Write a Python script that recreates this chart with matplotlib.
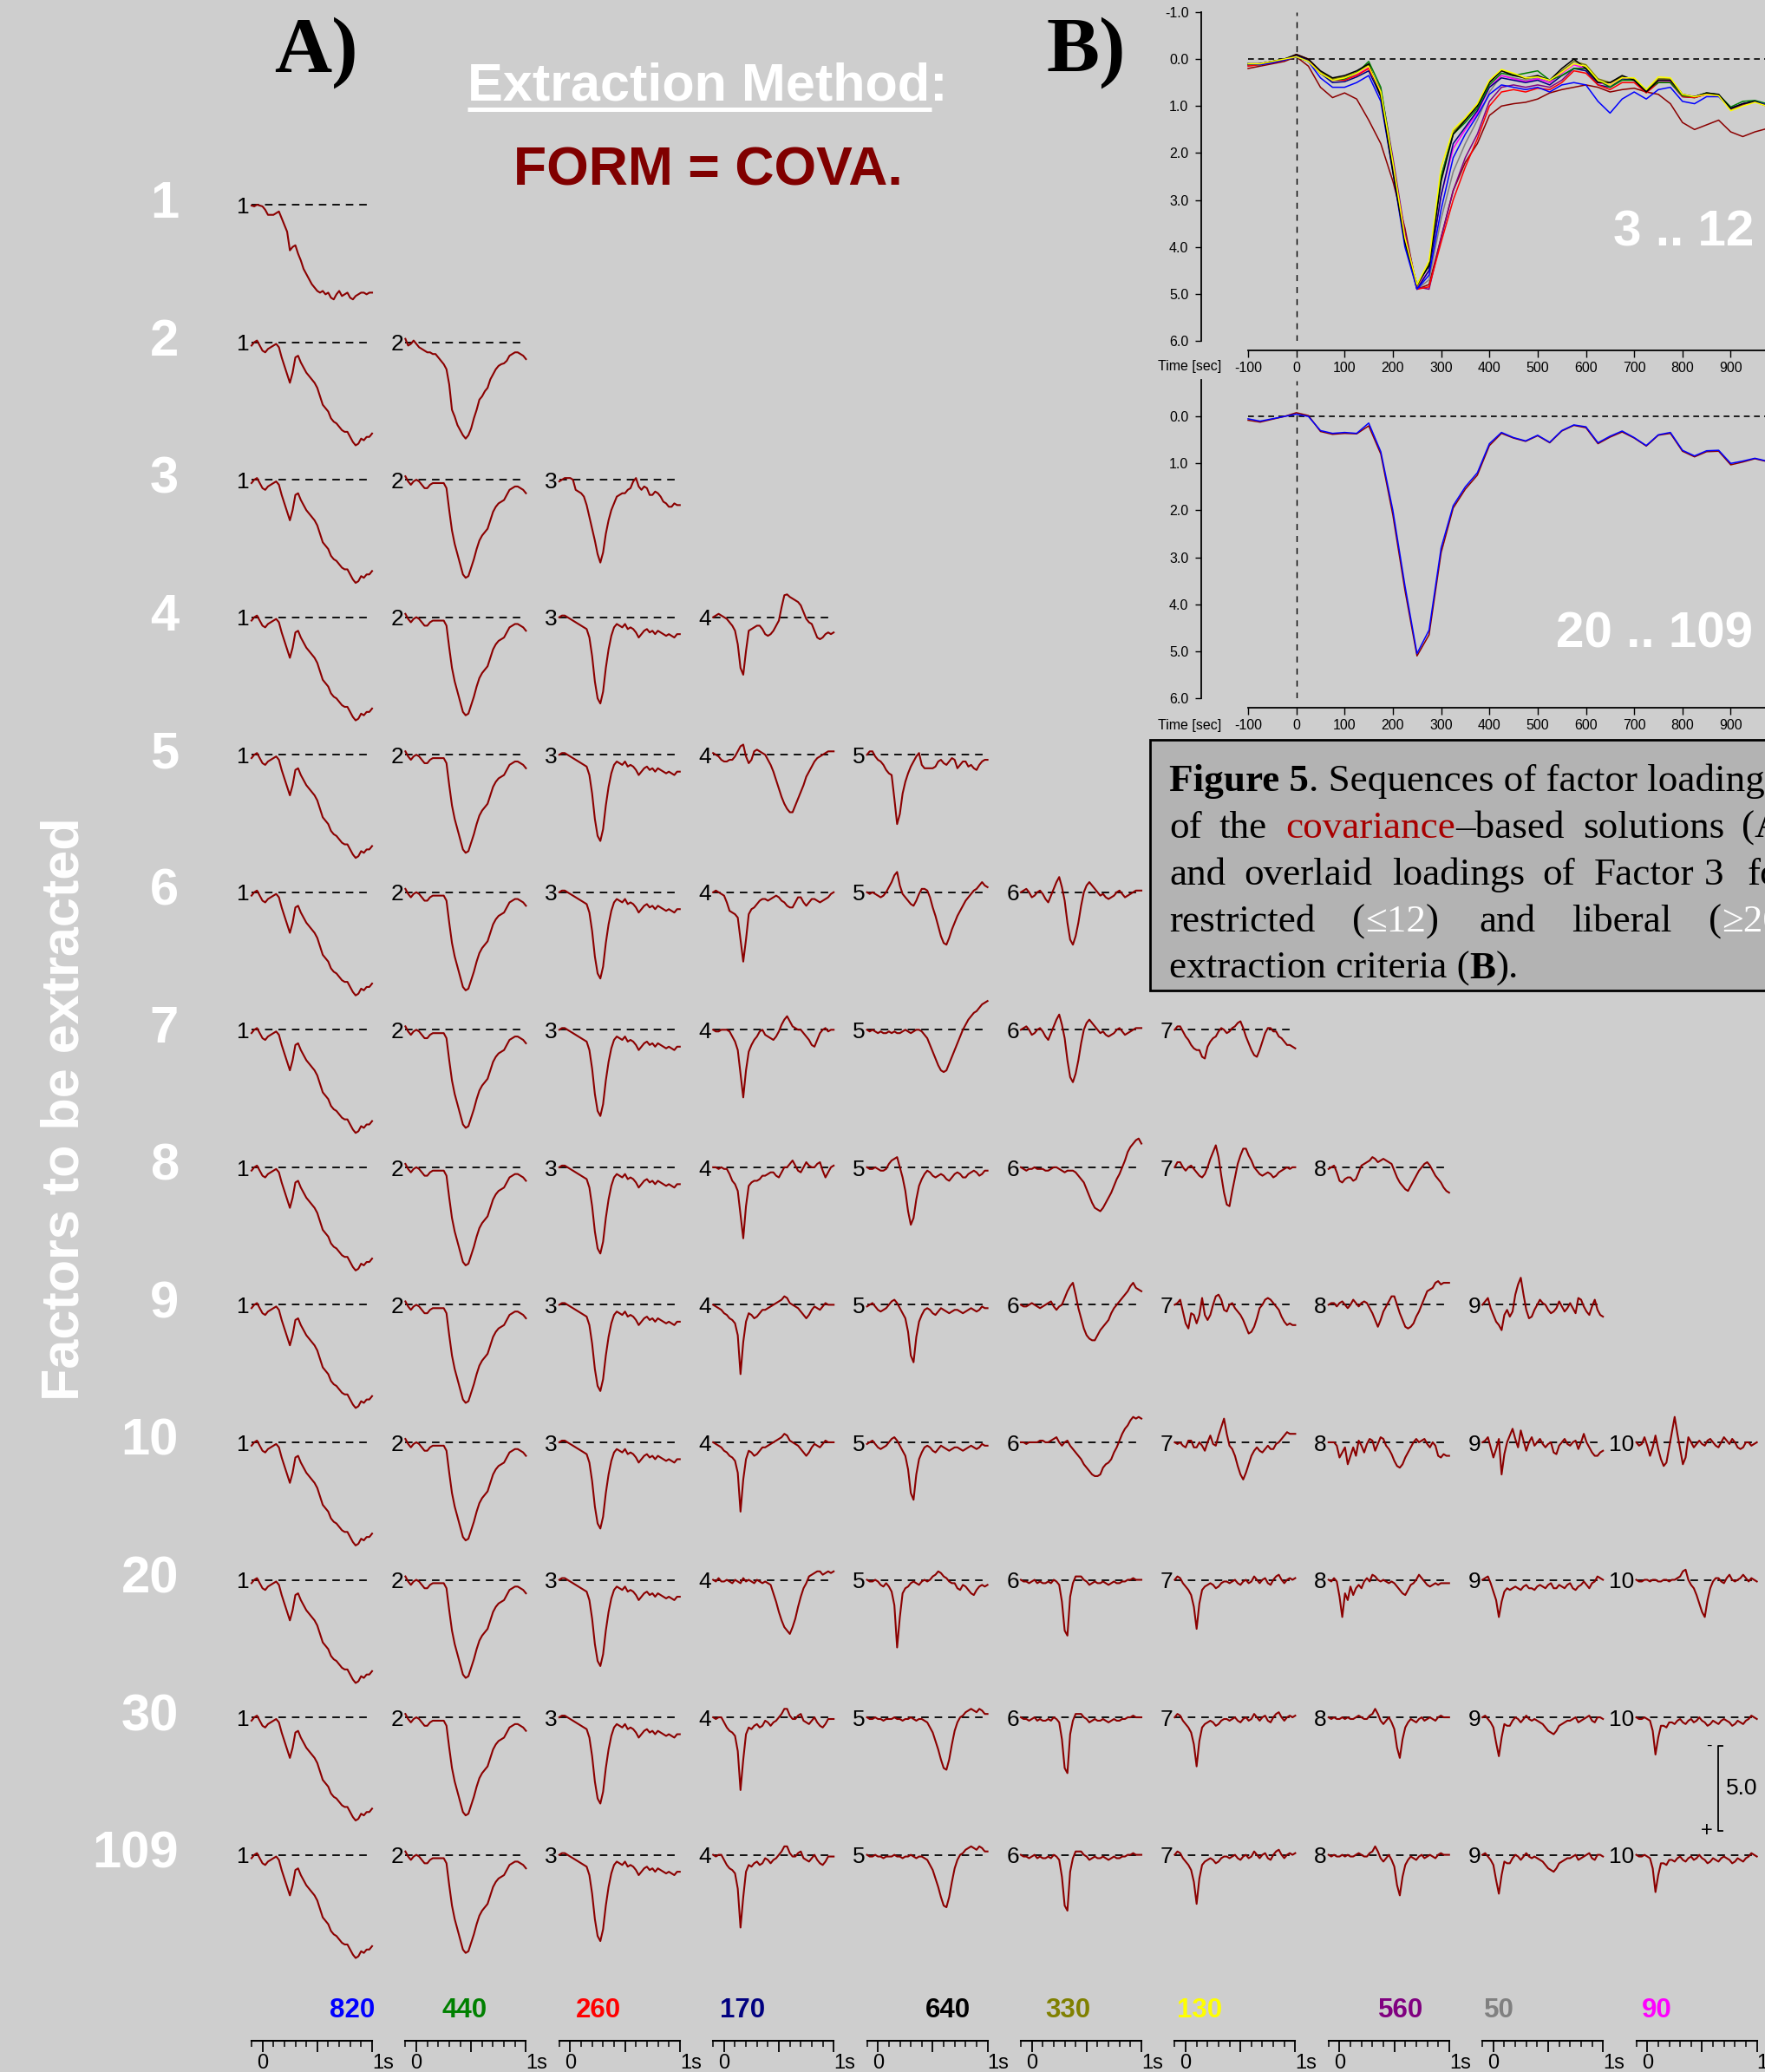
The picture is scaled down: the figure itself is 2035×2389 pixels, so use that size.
import numpy as np
import matplotlib
matplotlib.use("Agg")
import matplotlib.pyplot as plt
from matplotlib.patches import Rectangle

plt.rcParams["font.family"] = ["Liberation Sans", "DejaVu Sans"]
SERIF = ["Liberation Serif", "DejaVu Serif"]

W, H = 2035, 2389
BG = "#cecece"
WAVE = "#8b0000"

# sample times (ms) of every loading curve
times = np.arange(-100, 1001, 25)

# ---- panel A: factor loadings, one list per curve (positive = drawn downwards)
f1_row1 = [0.05, 0.1, 0.0, 0.05, 0.1, 0.3, 0.6, 0.6, 0.6,
           0.5, 0.4, 0.8, 1.2, 1.6, 2.7, 2.5, 2.4, 2.9,
           3.3, 3.8, 4.1, 4.4, 4.7, 4.9, 5.1, 5.2, 5.1,
           5.3, 5.2, 5.5, 5.6, 5.3, 5.1, 5.4, 5.3, 5.2,
           5.5, 5.6, 5.4, 5.3, 5.2, 5.2, 5.3, 5.2, 5.2]
f1 = [0.2, 0.0, -0.1, 0.2, 0.5, 0.6, 0.4, 0.3, 0.2,
      0.1, 0.3, 0.9, 1.4, 1.9, 2.4, 1.8, 0.9, 0.8,
      1.2, 1.5, 1.8, 2.0, 2.2, 2.4, 2.7, 3.2, 3.7,
      3.9, 4.1, 4.5, 4.7, 4.8, 5.0, 5.2, 5.3, 5.3,
      5.6, 5.9, 6.1, 6.0, 5.7, 5.8, 5.6, 5.6, 5.4]
f2_row2 = [-0.2, 0.2, 0.1, -0.1, 0.1, 0.3, 0.4, 0.5, 0.6,
           0.6, 0.7, 0.7, 0.9, 1.1, 1.3, 1.6, 2.5, 4.0,
           4.4, 4.9, 5.2, 5.5, 5.7, 5.5, 5.1, 4.5, 4.0,
           3.4, 3.2, 2.9, 2.7, 2.2, 1.9, 1.6, 1.4, 1.3,
           1.25, 1.1, 0.8, 0.7, 0.6, 0.6, 0.7, 0.8, 1.0]
f2 = [-0.2, 0.1, 0.3, 0.1, 0.0, 0.1, 0.3, 0.5, 0.5,
      0.3, 0.2, 0.2, 0.2, 0.2, 0.2, 0.5, 1.8, 3.0,
      3.8, 4.4, 5.0, 5.6, 5.8, 5.7, 5.2, 4.7, 4.1,
      3.6, 3.3, 3.1, 2.9, 2.4, 1.9, 1.6, 1.4, 1.3,
      1.2, 0.9, 0.6, 0.5, 0.4, 0.4, 0.5, 0.6, 0.8]
f3_row3 = [0.1, 0.0, -0.1, -0.1, -0.1, 0.0, 0.6, 0.7, 0.8,
           1.0, 1.5, 2.2, 2.9, 3.6, 4.4, 4.9, 4.3, 3.2,
           2.4, 1.8, 1.4, 1.0, 0.9, 0.8, 0.8, 0.6, 0.5,
           0.1, -0.1, 0.4, 0.6, 0.4, 0.5, 0.9, 0.9, 0.7,
           0.8, 1.0, 1.3, 1.4, 1.6, 1.6, 1.4, 1.5, 1.5]
f3 = [0.0, -0.1, -0.1, 0.0, 0.1, 0.2, 0.3, 0.4, 0.5,
      0.6, 0.7, 1.2, 2.3, 3.8, 4.8, 5.1, 4.4, 3.0,
      1.9, 1.1, 0.6, 0.4, 0.5, 0.6, 0.4, 0.7, 0.6,
      0.7, 0.9, 1.2, 1.0, 0.8, 0.7, 0.9, 0.8, 1.0,
      0.8, 0.9, 1.0, 1.1, 1.0, 1.1, 1.2, 1.0, 1.0]
r4_f4 = [0.0, -0.1, -0.2, -0.1, 0.0, 0.1, 0.3, 0.5, 0.8,
         1.6, 3.0, 3.4, 2.0, 0.8, 0.7, 0.6, 0.5, 0.5,
         0.7, 1.0, 1.1, 1.0, 0.8, 0.5, 0.2, -0.6, -1.3,
         -1.35, -1.2, -1.1, -1.0, -0.9, -0.7, -0.3, 0.1, 0.3,
         0.4, 0.8, 1.2, 1.3, 1.2, 1.0, 0.9, 1.0, 0.9]
r5_f4 = [-0.1, 0.0, 0.1, 0.3, 0.4, 0.4, 0.3, 0.3, 0.1,
         -0.2, -0.5, -0.6, 0.1, 0.5, 0.3, -0.2, -0.3, -0.2,
         -0.1, 0.0, 0.3, 0.6, 1.0, 1.5, 2.0, 2.5, 2.9,
         3.2, 3.4, 3.4, 3.0, 2.6, 2.2, 1.8, 1.3, 1.0,
         0.7, 0.4, 0.2, 0.1, 0.0, -0.1, -0.2, -0.2, -0.2]
r5_f5 = [0.0, -0.2, -0.2, 0.1, 0.3, 0.4, 0.6, 0.9, 1.1,
         1.2, 2.6, 4.1, 3.5, 2.3, 1.6, 1.1, 0.7, 0.4,
         0.1, -0.1, 0.6, 0.8, 0.8, 0.8, 0.8, 0.7, 0.4,
         0.3, 0.5, 0.6, 0.4, 0.2, 0.3, 0.8, 0.6, 0.4,
         0.4, 0.7, 0.6, 0.8, 0.9, 0.6, 0.4, 0.3, 0.3]
r6_f4 = [0.0, -0.1, 0.0, 0.1, 0.2, 0.6, 1.1, 1.2, 1.3,
         1.5, 2.8, 4.1, 2.8, 1.3, 1.0, 0.9, 0.7, 0.5,
         0.4, 0.4, 0.5, 0.4, 0.3, 0.2, 0.3, 0.5, 0.6,
         0.8, 0.9, 0.9, 0.6, 0.3, 0.3, 0.6, 0.8, 0.6,
         0.4, 0.4, 0.5, 0.6, 0.5, 0.4, 0.3, 0.1, 0.0]
r6_f5 = [0.0, 0.1, 0.0, 0.1, 0.2, 0.3, 0.2, 0.0, -0.3,
         -0.6, -1.0, -1.2, -0.4, 0.1, 0.3, 0.5, 0.7, 0.8,
         0.5, 0.1, -0.2, -0.2, -0.1, 0.3, 0.9, 1.4, 2.0,
         2.6, 3.0, 3.1, 2.7, 2.2, 1.8, 1.4, 1.1, 0.8,
         0.5, 0.3, 0.1, -0.1, -0.2, -0.4, -0.6, -0.4, -0.3]
r6_f6 = [0.0, -0.1, -0.2, 0.0, 0.3, 0.2, 0.0, -0.1, 0.1,
         0.4, 0.6, 0.2, -0.2, -0.6, -0.9, -0.3, 0.5, 1.8,
         2.8, 3.1, 2.6, 1.8, 0.8, 0.0, -0.4, -0.6, -0.4,
         -0.2, 0.0, 0.2, 0.1, 0.3, 0.4, 0.3, 0.2, 0.0,
         -0.1, 0.1, 0.3, 0.2, 0.1, 0.0, -0.1, -0.1, -0.1]
r7_f4 = [0.0, 0.1, 0.1, 0.0, 0.0, 0.0, 0.1, 0.4, 0.7,
         1.2, 2.6, 4.0, 2.4, 1.3, 0.9, 0.6, 0.4, 0.1,
         0.0, 0.3, 0.4, 0.5, 0.6, 0.4, 0.1, -0.3, -0.6,
         -0.8, -0.5, -0.2, -0.1, 0.0, 0.0, 0.2, 0.4, 0.6,
         0.9, 1.0, 0.6, 0.2, 0.0, -0.1, 0.1, 0.0, 0.0]
r7_f5 = [0.0, 0.1, 0.0, 0.1, 0.2, 0.1, 0.2, 0.2, 0.1,
         0.2, 0.1, 0.2, 0.2, 0.1, 0.0, 0.1, 0.2, 0.1,
         0.0, 0.0, 0.1, 0.3, 0.5, 0.9, 1.3, 1.7, 2.1,
         2.4, 2.5, 2.4, 2.0, 1.6, 1.2, 0.8, 0.4, 0.0,
         -0.3, -0.6, -0.8, -1.0, -1.1, -1.3, -1.5, -1.6, -1.7]
r7_f7 = [0.0, -0.2, -0.2, 0.1, 0.4, 0.6, 0.9, 1.1, 1.2,
         1.2, 1.6, 1.7, 1.0, 0.7, 0.5, 0.4, 0.1, -0.1,
         0.0, 0.2, 0.1, -0.1, -0.2, -0.4, -0.5, -0.1, 0.4,
         0.8, 1.2, 1.5, 1.6, 1.2, 0.7, 0.2, -0.1, -0.1,
         0.1, 0.1, 0.4, 0.5, 0.7, 0.9, 0.9, 1.0, 1.1]
r8_f4 = [0.0, 0.0, 0.1, 0.0, 0.1, 0.1, 0.4, 0.8, 1.0,
         1.4, 2.8, 4.2, 2.3, 1.1, 0.9, 0.8, 0.8, 0.7,
         0.5, 0.5, 0.4, 0.3, 0.3, 0.5, 0.6, 0.3, 0.0,
         0.0, -0.2, -0.4, -0.1, 0.2, 0.3, 0.0, -0.3, -0.1,
         0.0, 0.0, -0.2, -0.3, 0.2, 0.6, 0.3, 0.0, -0.1]
r8_f5 = [0.0, 0.1, 0.1, 0.0, 0.1, 0.2, 0.2, 0.1, -0.2,
         -0.4, -0.5, -0.6, 0.0, 0.6, 1.4, 2.6, 3.4, 3.0,
         1.9, 1.1, 0.7, 0.4, 0.2, 0.3, 0.5, 0.6, 0.5,
         0.4, 0.5, 0.7, 0.8, 0.6, 0.4, 0.3, 0.4, 0.6,
         0.6, 0.4, 0.3, 0.2, 0.3, 0.5, 0.4, 0.2, 0.2]
r8_f6 = [0.0, 0.1, 0.2, 0.1, 0.1, 0.0, 0.1, 0.1, 0.1,
         0.2, 0.2, 0.1, 0.0, 0.0, 0.1, 0.2, 0.3, 0.2,
         0.2, 0.2, 0.3, 0.5, 0.7, 0.9, 1.3, 1.7, 2.1,
         2.4, 2.5, 2.6, 2.4, 2.1, 1.8, 1.5, 1.1, 0.7,
         0.4, 0.0, -0.4, -0.9, -1.2, -1.4, -1.6, -1.7, -1.4]
r8_f7 = [0.0, -0.3, -0.3, 0.0, 0.2, 0.0, -0.1, 0.1, 0.3,
         0.5, 0.6, 0.4, 0.0, -0.5, -0.9, -1.3, -0.6, 0.5,
         1.5, 2.2, 2.3, 1.4, 0.6, -0.2, -0.7, -1.1, -1.1,
         -0.7, -0.4, 0.0, 0.2, 0.4, 0.5, 0.4, 0.3, 0.4,
         0.6, 0.5, 0.3, 0.2, 0.1, 0.0, 0.1, 0.0, 0.0]
r8_f8 = [0.1, 0.0, -0.1, 0.3, 0.8, 0.9, 0.7, 0.6, 0.6,
         0.8, 0.7, 0.3, -0.1, -0.2, -0.3, -0.4, -0.6, -0.5,
         -0.3, -0.4, -0.5, -0.4, -0.3, -0.2, 0.2, 0.6, 0.9,
         1.1, 1.3, 1.4, 1.1, 0.8, 0.5, 0.2, 0.0, -0.2,
         -0.3, -0.1, 0.2, 0.5, 0.7, 0.9, 1.2, 1.4, 1.5]
r9_f4 = [0.0, 0.1, 0.2, 0.3, 0.5, 0.6, 0.8, 0.9, 1.1,
         1.8, 4.1, 2.2, 1.0, 0.5, 0.6, 0.8, 0.7, 0.5,
         0.3, 0.3, 0.2, 0.1, 0.0, -0.1, -0.2, -0.3, -0.5,
         -0.4, -0.1, 0.0, 0.1, 0.2, 0.4, 0.6, 0.8, 0.6,
         0.3, 0.1, 0.2, 0.3, 0.1, -0.1, 0.0, 0.0, 0.0]
r9_f5 = [0.1, 0.0, -0.1, 0.1, 0.3, 0.4, 0.3, 0.2, 0.0,
         -0.2, -0.3, -0.1, 0.2, 0.5, 0.8, 1.6, 3.0, 3.4,
         1.9, 1.0, 0.6, 0.3, 0.2, 0.3, 0.5, 0.6, 0.4,
         0.2, 0.3, 0.4, 0.5, 0.4, 0.3, 0.3, 0.4, 0.5,
         0.4, 0.3, 0.2, 0.3, 0.4, 0.3, 0.1, 0.2, 0.2]
r9_f6 = [0.0, 0.1, 0.1, 0.0, -0.1, 0.0, 0.1, 0.2, 0.1,
         0.0, -0.1, -0.2, 0.1, 0.3, 0.1, 0.0, -0.4, -0.8,
         -1.1, -1.3, -0.6, 0.2, 0.8, 1.4, 1.8, 2.0, 2.1,
         2.1, 1.8, 1.5, 1.3, 1.1, 0.9, 0.5, 0.2, 0.0,
         -0.2, -0.4, -0.6, -0.8, -1.1, -1.3, -1.0, -0.9, -0.8]
r9_f7 = [0.0, -0.1, -0.3, 0.4, 1.1, 1.4, 0.5, 0.6, 1.1,
         0.6, -0.4, 0.6, 0.9, 0.6, 0.0, -0.5, -0.6, -0.3,
         0.3, 0.4, 0.0, -0.1, 0.2, 0.4, 0.6, 0.9, 1.3,
         1.7, 1.6, 1.3, 0.8, 0.2, 0.0, -0.3, -0.4, -0.3,
         -0.1, 0.1, 0.3, 0.7, 1.0, 1.2, 1.1, 1.2, 1.2]
r9_f8 = [0.0, -0.1, -0.1, 0.1, -0.1, -0.2, 0.0, 0.2, 0.0,
         -0.3, -0.1, 0.1, -0.1, -0.2, -0.1, 0.2, 0.5, 0.9,
         1.3, 0.9, 0.4, 0.1, -0.2, -0.5, -0.5, 0.0, 0.5,
         0.9, 1.3, 1.4, 1.3, 1.1, 0.7, 0.4, 0.0, -0.4,
         -0.8, -0.9, -1.0, -1.3, -1.4, -1.2, -1.3, -1.3, -1.3]
r9_f9 = [0.0, -0.2, -0.4, 0.2, 0.6, 1.0, 1.2, 1.5, 0.6,
         0.3, 0.7, 0.4, -0.6, -1.2, -1.6, -0.6, 0.3, 0.8,
         0.7, 0.3, 0.0, -0.3, -0.1, 0.0, 0.3, 0.5, 0.4,
         0.2, -0.2, 0.1, 0.4, 0.2, -0.1, 0.2, 0.5, -0.4,
         -0.3, 0.1, 0.4, 0.6, 0.1, -0.3, 0.3, 0.6, 0.7]
r10_f6 = [0.0, 0.0, 0.1, 0.0, 0.0, 0.0, 0.0, -0.1, -0.1,
          0.0, 0.0, -0.1, -0.2, -0.3, 0.0, 0.2, 0.0, -0.1,
          0.2, 0.4, 0.6, 0.8, 1.0, 1.3, 1.5, 1.7, 1.9,
          2.0, 2.0, 1.9, 1.5, 1.3, 1.2, 1.0, 0.6, 0.3,
          -0.1, -0.5, -0.8, -1.0, -1.3, -1.5, -1.4, -1.5, -1.4]
r10_f7 = [0.0, 0.1, 0.0, 0.2, 0.3, -0.1, -0.1, 0.3, 0.3,
          0.0, 0.2, 0.5, 0.0, -0.4, 0.1, 0.2, -0.4, -0.9,
          -1.4, -0.5, 0.2, 0.4, 0.8, 1.4, 1.9, 2.2, 1.8,
          1.3, 0.8, 0.5, 0.3, 0.5, 0.6, 0.4, 0.2, 0.4,
          0.4, 0.1, 0.0, -0.2, -0.4, -0.6, -0.5, -0.5, -0.5]
r10_f8 = [0.0, 0.0, 0.0, 0.2, 0.9, 0.6, 0.3, 1.3, 0.8,
          0.3, 0.8, -0.1, 0.2, 0.6, 0.1, -0.2, -0.1, 0.5,
          0.1, -0.3, -0.2, 0.2, 0.4, 0.7, 1.1, 1.4, 1.5,
          1.3, 0.9, 0.6, 0.3, 0.0, -0.2, 0.0, -0.1, -0.2,
          0.1, 0.3, 0.0, 0.2, 0.8, 0.9, 0.7, 0.8, 0.8]
r10_f9 = [0.0, -0.1, -0.3, 0.3, 0.9, 0.4, -0.2, 1.9, 0.7,
          0.0, -0.4, -0.8, -0.2, 0.3, -0.7, -0.1, 0.5, 0.0,
          -0.3, 0.2, 0.0, -0.2, 0.1, 0.3, 0.1, 0.0, 0.6,
          0.7, 0.2, 0.0, -0.2, 0.1, 0.2, 0.0, -0.1, 0.4,
          0.0, -0.5, 0.0, 0.3, 0.6, 0.8, 0.8, 0.6, 0.5]
r10_f10 = [0.0, 0.2, 0.1, -0.3, 0.2, 0.8, 0.3, -0.4, 0.4,
           1.0, 1.4, 1.2, 0.3, -0.6, -1.5, -0.5, 0.4, 1.3,
           0.9, -0.3, 0.0, 0.3, 0.1, -0.1, 0.1, 0.2, -0.1,
           -0.2, 0.0, 0.2, 0.3, 0.0, -0.3, -0.1, 0.1, -0.2,
           0.0, 0.3, 0.4, 0.3, 0.0, 0.0, 0.2, 0.1, 0.0]
r20_f4 = [0.0, 0.1, -0.1, 0.1, 0.1, 0.0, 0.1, 0.2, 0.0,
          0.1, 0.2, -0.1, 0.1, 0.0, 0.1, 0.2, 0.0, 0.1,
          0.2, 0.1, 0.2, 0.3, 0.8, 1.3, 1.9, 2.4, 2.8,
          3.0, 3.2, 2.8, 2.3, 1.6, 1.0, 0.5, 0.2, -0.2,
          -0.3, -0.4, -0.5, -0.5, -0.3, -0.4, -0.5, -0.4, -0.5]
r20_f5 = [0.0, 0.1, 0.1, 0.0, 0.1, 0.3, 0.4, 0.2, 0.4,
          0.7, 1.5, 4.0, 2.2, 0.8, 0.5, 0.4, 0.2, 0.1,
          0.2, 0.3, 0.1, 0.0, 0.1, 0.0, -0.2, -0.3, -0.5,
          -0.4, -0.2, -0.1, 0.1, 0.2, 0.2, 0.5, 0.6, 0.3,
          0.4, 0.6, 0.8, 0.9, 0.6, 0.4, 0.3, 0.4, 0.3]
r20_f6 = [0.0, 0.1, 0.1, 0.2, 0.1, 0.0, 0.2, 0.1, 0.2,
          0.2, 0.1, 0.2, 0.0, 0.1, 0.3, 1.3, 3.0, 3.3,
          1.0, 0.2, -0.2, -0.2, -0.2, 0.0, 0.1, 0.3, 0.2,
          0.1, 0.2, 0.2, 0.1, 0.2, 0.3, 0.2, 0.1, 0.2,
          0.2, 0.1, 0.1, 0.0, 0.0, -0.1, 0.0, 0.0, 0.0]
r20_f7 = [0.0, -0.2, -0.1, 0.2, 0.4, 0.6, 0.9, 1.6, 2.9,
          1.4, 0.6, 0.4, 0.3, 0.2, 0.3, 0.5, 0.4, 0.2,
          0.1, 0.1, 0.2, 0.1, 0.0, 0.2, 0.3, 0.1, 0.0,
          0.2, 0.1, -0.2, 0.0, 0.2, 0.0, -0.1, 0.2, 0.3,
          0.0, -0.2, -0.3, 0.0, 0.2, 0.0, -0.1, 0.0, -0.1]
r20_f8 = [0.0, 0.1, -0.1, 0.1, 1.0, 2.2, 0.8, 1.2, 0.4,
          0.9, 0.5, 0.3, 0.5, 0.1, -0.1, 0.1, -0.3, -0.2,
          0.0, 0.1, 0.0, 0.1, 0.2, 0.1, 0.2, 0.4, 0.6,
          0.8, 0.9, 0.6, 0.3, 0.2, 0.0, -0.3, -0.1, 0.1,
          0.3, 0.4, 0.3, 0.2, 0.3, 0.2, 0.2, 0.2, 0.2]
r20_f9 = [0.0, -0.1, -0.2, 0.2, 0.7, 1.2, 2.2, 1.3, 0.7,
          0.5, 0.6, 0.5, 0.4, 0.5, 0.6, 0.4, 0.3, 0.5,
          0.5, 0.6, 0.4, 0.3, 0.4, 0.5, 0.3, 0.2, 0.5,
          0.5, 0.3, 0.4, 0.5, 0.3, 0.2, 0.5, 0.6, 0.4,
          0.3, 0.1, 0.3, 0.5, 0.2, 0.1, -0.2, -0.1, 0.0]
r20_f10 = [0.0, 0.1, 0.1, 0.0, 0.0, 0.1, 0.0, 0.0, 0.1,
           0.1, 0.0, 0.0, 0.1, 0.0, 0.0, -0.1, -0.2, -0.5,
           -0.6, 0.0, 0.3, 0.5, 0.9, 1.4, 1.9, 2.2, 1.2,
           0.5, 0.1, -0.1, -0.1, 0.1, 0.2, -0.1, -0.3, 0.0,
           0.1, 0.0, -0.1, -0.3, -0.1, 0.1, -0.1, 0.0, 0.1]
r30_f4 = [0.0, 0.1, 0.0, 0.0, 0.3, 0.6, 0.8, 0.9, 1.1,
          2.0, 4.3, 2.5, 1.0, 0.6, 0.7, 0.5, 0.4, 0.6,
          0.5, 0.2, 0.3, 0.5, 0.3, 0.2, 0.0, -0.2, -0.5,
          -0.5, -0.1, 0.1, 0.1, -0.1, -0.2, 0.2, 0.3, 0.4,
          0.2, 0.0, 0.3, 0.5, 0.6, 0.4, 0.1, 0.1, 0.1]
r30_f5 = [0.0, 0.1, 0.1, 0.0, 0.1, 0.1, 0.2, 0.1, 0.1,
          0.1, 0.0, 0.1, 0.1, 0.2, 0.1, 0.1, 0.0, 0.1,
          0.2, 0.1, 0.1, 0.2, 0.3, 0.6, 0.9, 1.4, 1.9,
          2.5, 3.0, 3.1, 2.5, 1.6, 0.8, 0.3, 0.0, -0.1,
          -0.3, -0.4, -0.5, -0.4, -0.3, -0.5, -0.4, -0.2, -0.2]
r30_f8 = [0.0, 0.1, 0.0, 0.1, 0.1, 0.0, 0.1, 0.0, 0.1,
          0.1, 0.0, -0.1, 0.0, 0.1, 0.1, -0.1, -0.2, -0.5,
          -0.2, 0.2, 0.4, 0.2, 0.0, 0.3, 0.7, 1.8, 2.4,
          1.3, 0.6, 0.3, 0.1, 0.2, 0.3, 0.1, 0.0, 0.2,
          0.1, 0.0, 0.1, 0.2, 0.0, -0.1, 0.0, 0.0, 0.0]
r30_f9 = [0.0, -0.1, 0.1, 0.3, 0.6, 1.5, 2.3, 1.2, 0.4,
          0.5, 0.5, 0.2, 0.0, 0.1, 0.3, 0.1, -0.1, 0.1,
          0.2, 0.1, 0.2, 0.3, 0.4, 0.6, 0.8, 0.9, 1.0,
          0.8, 0.5, 0.4, 0.3, 0.2, 0.2, 0.1, 0.0, 0.3,
          0.2, 0.1, 0.0, -0.1, 0.2, 0.3, 0.0, 0.0, 0.1]
r30_f10 = [0.0, 0.1, 0.1, 0.0, 0.1, 0.2, 0.8, 2.2, 1.2,
           0.5, 0.5, 0.6, 0.3, 0.3, 0.4, 0.2, 0.1, 0.3,
           0.4, 0.2, 0.1, 0.3, 0.2, 0.0, 0.2, 0.3, 0.5,
           0.4, 0.2, 0.3, 0.4, 0.2, 0.1, 0.2, 0.3, 0.5,
           0.4, 0.2, 0.3, 0.4, 0.2, 0.1, -0.1, 0.0, 0.1]

row_labels = ["1", "2", "3", "4", "5", "6", "7", "8", "9", "10", "20", "30", "109"]
row_curves = [
    [f1_row1],
    [f1, f2_row2],
    [f1, f2, f3_row3],
    [f1, f2, f3, r4_f4],
    [f1, f2, f3, r5_f4, r5_f5],
    [f1, f2, f3, r6_f4, r6_f5, r6_f6],
    [f1, f2, f3, r7_f4, r7_f5, r6_f6, r7_f7],
    [f1, f2, f3, r8_f4, r8_f5, r8_f6, r8_f7, r8_f8],
    [f1, f2, f3, r9_f4, r9_f5, r9_f6, r9_f7, r9_f8, r9_f9],
    [f1, f2, f3, r9_f4, r9_f5, r10_f6, r10_f7, r10_f8, r10_f9, r10_f10],
    [f1, f2, f3, r20_f4, r20_f5, r20_f6, r20_f7, r20_f8, r20_f9, r20_f10],
    [f1, f2, f3, r30_f4, r30_f5, r20_f6, r20_f7, r30_f8, r30_f9, r30_f10],
    [f1, f2, f3, r30_f4, r30_f5, r20_f6, r20_f7, r30_f8, r30_f9, r30_f10],
]

# peak latency (ms) of each factor of the final solution, and its colour
peak_latency = [820, 440, 260, 170, 640, 330, 130, 560, 50, 90]
factor_colors = ["#0000ff", "#008000", "#ff0000", "#000080", "#000000",
                 "#808000", "#ffff00", "#800080", "#808080", "#ff00ff"]
scale_bar = 5.0

# ---- panel B: factor 3 of the restricted (3..12) and liberal (20..109) solutions
b_darkred = [0.2, 0.15, 0.1, 0.05, -0.05, 0.15, 0.6, 0.82, 0.72,
             0.85, 1.3, 1.8, 2.6, 3.6, 4.9, 4.8, 3.8, 2.8,
             2.2, 1.8, 1.2, 1.0, 0.95, 0.92, 0.85, 0.72, 0.65,
             0.6, 0.55, 0.6, 0.7, 0.65, 0.62, 0.7, 0.75, 0.95,
             1.35, 1.5, 1.4, 1.3, 1.55, 1.65, 1.55, 1.48, 1.45]
b_blue = [0.1, 0.12, 0.08, 0.02, -0.05, 0.05, 0.4, 0.6, 0.6,
          0.5, 0.35, 0.9, 2.4, 4.0, 4.9, 4.6, 3.2, 2.1,
          1.6, 1.2, 0.75, 0.55, 0.6, 0.65, 0.6, 0.7, 0.55,
          0.5, 0.55, 0.9, 1.15, 0.85, 0.7, 0.85, 0.65, 0.6,
          0.9, 0.95, 0.8, 0.8, 1.05, 0.95, 0.9, 0.98, 0.98]
b_green = [0.1, 0.12, 0.05, 0.0, -0.05, 0.05, 0.3, 0.45, 0.42,
           0.3, 0.05, 0.6, 2.2, 3.9, 4.8, 4.4, 2.5, 1.6,
           1.35, 1.05, 0.55, 0.3, 0.35, 0.3, 0.25, 0.45, 0.35,
           0.2, 0.2, 0.45, 0.6, 0.45, 0.45, 0.65, 0.5, 0.5,
           0.78, 0.8, 0.72, 0.76, 1.02, 0.9, 0.88, 0.95, 0.95]
b_red = [0.15, 0.12, 0.08, 0.02, -0.1, 0.0, 0.3, 0.45, 0.45,
         0.35, 0.2, 0.7, 2.2, 3.8, 4.9, 4.85, 3.9, 3.0,
         2.3, 1.7, 1.0, 0.7, 0.65, 0.7, 0.62, 0.65, 0.5,
         0.25, 0.3, 0.55, 0.65, 0.5, 0.5, 0.72, 0.5, 0.5,
         0.8, 0.82, 0.75, 0.78, 1.05, 0.96, 0.9, 0.98, 0.98]
b_navy = [0.12, 0.1, 0.05, 0.02, -0.08, 0.02, 0.3, 0.5, 0.48,
          0.38, 0.25, 0.8, 2.3, 3.9, 4.9, 4.5, 2.9, 1.8,
          1.45, 1.1, 0.6, 0.4, 0.45, 0.5, 0.45, 0.55, 0.35,
          0.2, 0.25, 0.55, 0.6, 0.42, 0.45, 0.7, 0.5, 0.5,
          0.8, 0.82, 0.74, 0.78, 1.05, 0.96, 0.9, 0.98, 0.98]
b_black = [0.1, 0.1, 0.05, 0.0, -0.1, 0.0, 0.25, 0.4, 0.35,
           0.25, 0.1, 0.8, 2.4, 3.9, 4.8, 4.4, 2.6, 1.6,
           1.3, 1.0, 0.5, 0.25, 0.35, 0.4, 0.35, 0.45, 0.2,
           0.0, 0.2, 0.5, 0.5, 0.35, 0.45, 0.7, 0.45, 0.45,
           0.75, 0.8, 0.72, 0.75, 1.05, 0.95, 0.9, 1.0, 1.0]
b_olive = [0.12, 0.1, 0.05, 0.0, -0.08, 0.02, 0.28, 0.42, 0.38,
           0.28, 0.12, 0.75, 2.3, 3.85, 4.85, 4.35, 2.5, 1.55,
           1.28, 0.98, 0.48, 0.24, 0.32, 0.42, 0.36, 0.46, 0.25,
           0.05, 0.12, 0.42, 0.5, 0.38, 0.42, 0.68, 0.42, 0.42,
           0.75, 0.82, 0.74, 0.76, 1.08, 0.98, 0.9, 1.0, 1.0]
b_yellow = [0.1, 0.1, 0.05, 0.0, -0.05, 0.05, 0.3, 0.45, 0.4,
            0.3, 0.15, 0.7, 2.2, 3.8, 4.8, 4.3, 2.3, 1.5,
            1.25, 0.95, 0.45, 0.22, 0.3, 0.4, 0.38, 0.45, 0.28,
            0.1, 0.15, 0.45, 0.55, 0.4, 0.4, 0.65, 0.38, 0.4,
            0.75, 0.8, 0.75, 0.78, 1.1, 1.0, 0.92, 1.0, 1.0]
b_purple = [0.12, 0.1, 0.06, 0.02, -0.08, 0.02, 0.3, 0.45, 0.42,
            0.32, 0.18, 0.65, 2.1, 3.7, 4.85, 4.9, 3.8, 2.8,
            2.1, 1.6, 0.9, 0.6, 0.55, 0.6, 0.55, 0.6, 0.45,
            0.2, 0.2, 0.5, 0.55, 0.4, 0.45, 0.7, 0.45, 0.45,
            0.78, 0.8, 0.74, 0.76, 1.05, 0.95, 0.9, 0.98, 0.98]
b_gray = [0.1, 0.1, 0.05, 0.02, -0.06, 0.02, 0.3, 0.45, 0.42,
          0.32, 0.18, 0.7, 2.2, 3.8, 4.9, 4.7, 3.4, 2.4,
          1.8, 1.3, 0.7, 0.35, 0.4, 0.45, 0.4, 0.5, 0.3,
          0.1, 0.15, 0.45, 0.5, 0.38, 0.42, 0.68, 0.42, 0.45,
          0.76, 0.8, 0.73, 0.76, 1.06, 0.96, 0.9, 1.0, 1.0]
b_magenta = [0.12, 0.1, 0.05, 0.0, -0.08, 0.02, 0.3, 0.45, 0.42,
             0.32, 0.18, 0.75, 2.3, 3.85, 4.85, 4.5, 2.9, 1.9,
             1.5, 1.15, 0.6, 0.35, 0.42, 0.48, 0.42, 0.5, 0.3,
             0.12, 0.2, 0.5, 0.55, 0.4, 0.44, 0.7, 0.45, 0.46,
             0.77, 0.8, 0.73, 0.77, 1.06, 0.96, 0.9, 1.0, 1.0]
liberal_darkred = [0.08, 0.12, 0.06, 0.0, -0.08, -0.02, 0.32, 0.38, 0.36,
                   0.37, 0.2, 0.8, 2.1, 3.7, 5.1, 4.65, 2.9, 1.95,
                   1.55, 1.25, 0.62, 0.36, 0.46, 0.53, 0.41, 0.56, 0.31,
                   0.19, 0.24, 0.58, 0.44, 0.33, 0.46, 0.63, 0.4, 0.36,
                   0.74, 0.86, 0.75, 0.74, 1.03, 0.97, 0.9, 0.96, 0.96]
liberal_blue = [0.05, 0.1, 0.05, 0.0, -0.05, 0.0, 0.3, 0.36, 0.34,
                0.36, 0.14, 0.75, 2.0, 3.6, 5.05, 4.55, 2.8, 1.9,
                1.5, 1.2, 0.58, 0.34, 0.45, 0.52, 0.4, 0.55, 0.3,
                0.18, 0.22, 0.56, 0.42, 0.31, 0.45, 0.62, 0.39, 0.34,
                0.72, 0.84, 0.73, 0.72, 1.0, 0.95, 0.89, 0.95, 0.95]

restricted_curves = [b_darkred, b_gray, b_purple, b_magenta, b_olive, b_navy,
                     b_red, b_green, b_blue, b_black, b_yellow]
restricted_colors = ["#8b0000", "#808080", "#800080", "#ff00ff", "#808000", "#000080",
                     "#ff0000", "#008000", "#0000ff", "#000000", "#ffff00"]
liberal_curves = [liberal_darkred, liberal_blue]
liberal_colors = ["#8b0000", "#0000ff"]
time_ticks = [-100, 0, 100, 200, 300, 400, 500, 600, 700, 800, 900]

# ------------------------------------------------------------------ figure
fig = plt.figure(figsize=(W / 100, H / 100), dpi=100, facecolor=BG)
ov = fig.add_axes([0, 0, 1, 1])
ov.set_xlim(0, W)
ov.set_ylim(H, 0)
ov.axis("off")


def px_axes(x, y, w, h):
    ax = fig.add_axes([x / W, 1 - (y + h) / H, w / W, h / H])
    ax.patch.set_alpha(0)
    return ax


# headings
ov.text(364, 83, "A)", ha="center", va="baseline", fontsize=66, fontweight="bold", family=SERIF)
ov.text(1252, 83, "B)", ha="center", va="baseline", fontsize=66, fontweight="bold", family=SERIF)
ov.text(816, 115, "Extraction Method:", ha="center", va="baseline", color="white",
        fontsize=44, fontweight="bold")
ov.plot([539, 1074], [125.5, 125.5], color="white", lw=3.6, solid_capstyle="butt")
ov.text(816, 213, "FORM = COVA.", ha="center", va="baseline", color="#800000",
        fontsize=45, fontweight="bold")
ov.text(75, 1279, "Factors to be extracted", rotation=90, ha="center", va="center",
        color="white", fontsize=44, fontweight="bold")

# panel A grid
UNIT = 19.5
CELL_X0, COL_STEP, CELL_W = 290, 177.4, 139
ROW_Y0, ROW_STEP = 236, 158.55
cells = {}
for r, (label, curves) in enumerate(zip(row_labels, row_curves)):
    ry = ROW_Y0 + r * ROW_STEP
    ov.text(206, ry + 15, label, ha="right", va="baseline", color="white",
            fontsize=43, fontweight="bold")
    for c, wave in enumerate(curves):
        ax = px_axes(CELL_X0 + c * COL_STEP, ry - 2 * UNIT, CELL_W, 8.5 * UNIT)
        ax.set_xlim(-100, 1000)
        ax.set_ylim(6.5, -2)
        ax.axis("off")
        ax.hlines(0, -100, 1000, colors="black", linestyles=(0, (4.8, 3.8)), lw=1.3)
        ax.plot(times[:len(wave)], wave, color=WAVE, lw=1.5, clip_on=False)
        ax.annotate(str(c + 1), xy=(-100, 0), xytext=(-1.5, -7), textcoords="offset points",
                    ha="right", va="baseline", fontsize=19)
        cells[(label, c)] = ax

# amplitude scale bar next to the last rows
sb = cells[("30", 9)]
top = 1.7
sb.plot([690, 645, 645, 690], [top, top, top + scale_bar, top + scale_bar],
        color="black", lw=1.3, clip_on=False)
sb.text(560, top, "-", ha="center", va="center", fontsize=14)
sb.text(545, top + scale_bar, "+", ha="center", va="center", fontsize=17)
sb.text(720, top + scale_bar / 2, f"{scale_bar:.1f}", ha="left", va="center", fontsize=19)

# time rulers with the peak latencies
for c in range(10):
    ax = px_axes(CELL_X0 + c * COL_STEP, 2293, CELL_W, 60)
    ax.set_xlim(-100, 1000)
    ax.set_ylim(0, 1)
    for side in ("top", "right", "left"):
        ax.spines[side].set_visible(False)
    ax.spines["bottom"].set_bounds(-100, 1000)
    ax.spines["bottom"].set_linewidth(1.5)
    ax.set_yticks([])
    ax.set_xticks([0, 500, 1000])
    ax.set_xticklabels(["0", "", "1s"])
    ax.set_xticks([-100, 100, 200, 300, 400, 600, 700, 800, 900], minor=True)
    ax.tick_params(axis="x", which="major", length=9.5, width=1.3, pad=1.5, labelsize=17)
    ax.tick_params(axis="x", which="minor", length=5, width=1.1)
    ax.get_xticklabels()[2].set_horizontalalignment("left")
    ax.text(peak_latency[c], 0.45, str(peak_latency[c]), transform=ax.get_xaxis_transform(),
            ha="center", va="baseline", color=factor_colors[c], fontsize=22.5, fontweight="bold")


# panel B
def loading_panel(top_px, bottom_px, ymin, yticks, curves, colors, label_y):
    ax = px_axes(1385, top_px, W - 1385, bottom_px - top_px)
    ax.set_xlim(-197, 971)
    ax.set_ylim(6, ymin)
    for side in ("top", "right"):
        ax.spines[side].set_visible(False)
    ax.spines["left"].set_bounds(ymin, 6)
    ax.spines["bottom"].set_position(("outward", 8))
    ax.spines["bottom"].set_bounds(-100, 971)
    for side in ("left", "bottom"):
        ax.spines[side].set_linewidth(1.3)
    ax.axvline(0, color="black", lw=1.0, ls=(0, (5, 5)))
    ax.hlines(0, -100, 1000, colors="black", lw=1.2, linestyles=(0, (4, 3)))
    for curve, col in zip(curves, colors):
        ax.plot(times[:len(curve)], curve, color=col, lw=1.1)
    ax.set_yticks(yticks)
    ax.set_yticklabels([f"{v:.1f}" for v in yticks])
    ax.set_xticks(time_ticks)
    ax.set_xticklabels([str(t) for t in time_ticks])
    ax.tick_params(axis="y", length=5, width=1.0, pad=5.5, labelsize=11.5)
    ax.tick_params(axis="x", length=6, width=1.0, pad=3, labelsize=11.5)
    ov.text(1408, label_y, "Time [sec]", ha="right", va="center", fontsize=11.5)
    return ax


loading_panel(14, 393, -1.0, [-1, 0, 1, 2, 3, 4, 5, 6], restricted_curves, restricted_colors, 422.5)
loading_panel(438.5, 805, -0.77, [0, 1, 2, 3, 4, 5, 6], liberal_curves, liberal_colors, 836)
ov.text(1860, 283, "3 .. 12", ha="left", va="baseline", color="white", fontsize=42, fontweight="bold")
ov.text(1794, 746.5, "20 .. 109", ha="left", va="baseline", color="white", fontsize=42, fontweight="bold")

# caption box
ov.add_patch(Rectangle((1326, 853), 760, 289, facecolor="#b3b3b3", edgecolor="black",
                       lw=2.0, clip_on=False))
CAP = dict(fontsize=32.5, family=SERIF)
RED = "#a80000"


def chain(x, y, parts):
    prev = None
    for txt, col, weight in parts:
        if prev is None:
            prev = ov.text(x, y, txt, color=col, fontweight=weight, ha="left", va="baseline", **CAP)
        else:
            prev = ov.annotate(txt, xy=(1, 0), xycoords=prev, ha="left", va="bottom",
                               color=col, fontweight=weight, **CAP)


chain(1348, 912, [("Figure 5", "black", "bold"), (". Sequences of factor loadings", "black", "normal")])
for word, x in [("of", 1348), ("the", 1406), ("solutions", 1825), ("(A)", 2008)]:
    chain(x, 966, [(word, "black", "normal")])
chain(1482, 966, [("covariance", RED, "normal"), ("\u2013based", "black", "normal")])
for word, x in [("and", 1348), ("overlaid", 1434), ("loadings", 1605), ("of", 1778),
                ("Factor", 1838), ("3", 1965), ("for", 2015)]:
    chain(x, 1020, [(word, "black", "normal")])
for word, x in [("restricted", 1348), ("and", 1705), ("liberal", 1812)]:
    chain(x, 1074, [(word, "black", "normal")])
chain(1559, 1074, [("(", "black", "normal"), ("\u226412", "white", "normal"), (")", "black", "normal")])
chain(1970, 1074, [("(", "black", "normal"), ("\u226520", "white", "normal"), (")", "black", "normal")])
chain(1348, 1128, [("extraction criteria (", "black", "normal"), ("B", "black", "bold"),
                   (").", "black", "normal")])

fig.savefig("out.png", dpi=100, facecolor=BG)
